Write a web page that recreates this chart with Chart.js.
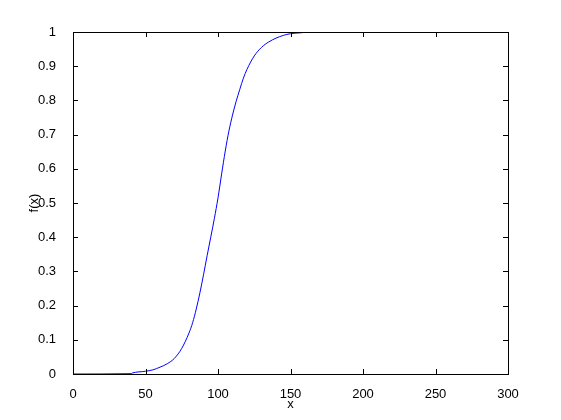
<!DOCTYPE html>
<html>
<head>
<meta charset="utf-8">
<script src="https://cdn.jsdelivr.net/npm/chart.js@4"></script>
<style>
    html, body { margin: 0; padding: 0; background: #fff; }
    #wrap { width: 561px; height: 420px; }
</style>
</head>
<body>
<div id="wrap"><canvas id="cdfChart" width="561" height="420"></canvas></div>
<script>
const xValues = [0, 40, 41, 50, 55, 60, 65, 70, 75, 80, 82.5, 85, 87.5, 90, 92.5, 95, 97.5, 100, 102.5, 105, 107.5, 110, 112.5, 115, 117.5, 120, 125, 130, 135, 140, 145, 150, 155, 158];
const fValues = [0, 0.001, 0.003, 0.008, 0.012, 0.02, 0.03, 0.046, 0.075, 0.12, 0.15, 0.19, 0.237, 0.29, 0.346, 0.40, 0.455, 0.515, 0.585, 0.652, 0.71, 0.757, 0.797, 0.832, 0.865, 0.891, 0.93, 0.955, 0.971, 0.982, 0.99, 0.995, 0.997, 0.998];
const xTicks = [0, 50, 100, 150, 200, 250, 300];
const yTicks = [0, 0.1, 0.2, 0.3, 0.4, 0.5, 0.6, 0.7, 0.8, 0.9, 1];

const fontFace = '"Liberation Sans", Arial, sans-serif';

// box + inward ticks like matlab axes
const boxTicks = {
    id: 'boxTicks',
    afterDatasetsDraw(chart) {
        const { ctx, chartArea: a, scales } = chart;
        ctx.save();
        ctx.strokeStyle = '#000';
        ctx.lineWidth = 1;
        ctx.beginPath();
        xTicks.forEach(v => {
            const px = Math.round(scales.x.getPixelForValue(v)) + 0.5;
            ctx.moveTo(px, a.bottom); ctx.lineTo(px, a.bottom - 5);
            ctx.moveTo(px, a.top); ctx.lineTo(px, a.top + 5);
        });
        yTicks.forEach(v => {
            const py = Math.round(scales.y.getPixelForValue(v)) + 0.5;
            ctx.moveTo(a.left, py); ctx.lineTo(a.left + 5, py);
            ctx.moveTo(a.right, py); ctx.lineTo(a.right - 5, py);
        });
        ctx.stroke();
        ctx.strokeRect(Math.round(a.left) + 0.5, Math.round(a.top) + 0.5,
            Math.round(a.right - a.left), Math.round(a.bottom - a.top));
        ctx.restore();
    }
};

new Chart(document.getElementById('cdfChart'), {
    type: 'scatter',
    data: {
        datasets: [{
            data: xValues.map((x, i) => ({ x: x, y: fValues[i] })),
            showLine: true,
            borderColor: '#0000ff',
            borderWidth: 1,
            pointRadius: 0,
            cubicInterpolationMode: 'monotone'
        }]
    },
    options: {
        responsive: false,
        animation: false,
        layout: { padding: { left: 0, right: 53, top: 32, bottom: 0 } },
        plugins: { legend: { display: false }, tooltip: { enabled: false } },
        scales: {
            x: {
                type: 'linear',
                min: 0,
                max: 300,
                afterBuildTicks: s => { s.ticks = xTicks.map(v => ({ value: v })); },
                afterFit: s => { s.height = 46; },
                grid: { display: false },
                border: { display: false },
                ticks: { color: '#000', padding: 5, maxRotation: 0, font: { family: fontFace, size: 13 } },
                title: { display: true, text: 'x', color: '#000', padding: { top: 0, bottom: 8 }, font: { family: fontFace, size: 13 } }
            },
            y: {
                type: 'linear',
                min: 0,
                max: 1,
                afterBuildTicks: s => { s.ticks = yTicks.map(v => ({ value: v })); },
                afterFit: s => { s.width = 73; },
                grid: { display: false },
                border: { display: false },
                ticks: { color: '#000', padding: 9, font: { family: fontFace, size: 13 }, callback: v => String(Math.round(v * 10) / 10) },
                title: { display: true, text: 'f(x)', color: '#000', padding: { top: 27, bottom: 0 }, font: { family: fontFace, size: 13 } }
            }
        }
    },
    plugins: [boxTicks]
});
</script>
</body>
</html>
